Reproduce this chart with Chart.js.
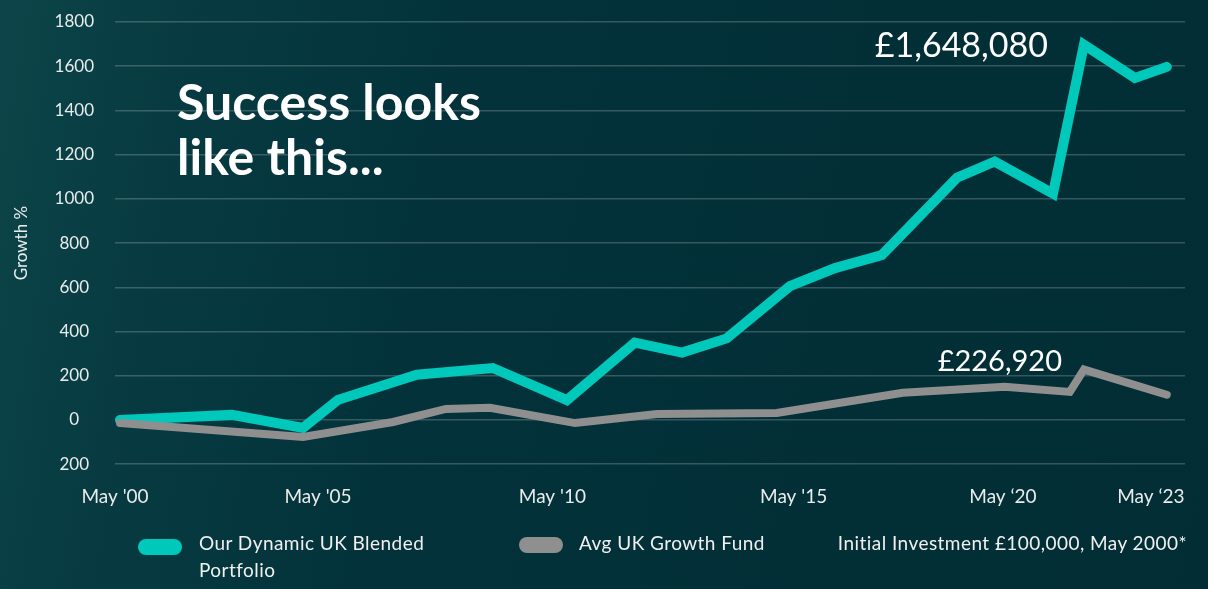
<!DOCTYPE html>
<html>
<head>
<meta charset="utf-8">
<script src="https://cdn.jsdelivr.net/npm/chart.js@4.4.0/dist/chart.umd.min.js"></script>
<style>
  body {
    margin: 0;
    width: 1208px;
    height: 589px;
    overflow: hidden;
    background: linear-gradient(100deg, #0c4549 0%, #073b41 14%, #03323a 36%, #022d34 100%);
    font-family: Lato, sans-serif;
  }
  #wrap { position: relative; width: 1208px; height: 589px; }
  #chart { position: absolute; left: 0; top: 0; }
  .legend-text { position: absolute; font-size: 19px; letter-spacing: 0.45px; line-height: 27px; color: #f0f0f0; }
  .pill { position: absolute; width: 44px; height: 16px; border-radius: 8px; }
</style>
</head>
<body>
<div id="wrap">
  <canvas id="chart" width="1208" height="589"></canvas>
  <div id="legend"></div>
</div>
<script>
// ------------------ Data ------------------
const tealYears = [2000, 2002.46, 2004.02, 2004.79, 2006.52, 2008.19, 2009.82, 2011.31, 2012.35, 2013.33, 2014.72, 2015.71, 2016.74, 2018.39, 2019.22, 2020.5, 2021.18, 2022.3, 2023];
const tealValues = [0, 23, -36, 91, 205, 235, 90, 350, 305, 369, 605, 687, 746, 1096, 1169, 1024, 1697, 1547, 1597];

const greyYears = [2000, 2004.02, 2006.0, 2007.16, 2008.13, 2010.0, 2011.8, 2014.43, 2017.2, 2019.44, 2020.87, 2021.18, 2023];
const greyValues = [-14, -77, -9, 50, 55, -14, 27, 32, 123, 150, 127, 228, 114];

const seriesNames = ["Our Dynamic UK Blended Portfolio", "Avg UK Growth Fund"];
const seriesColors = ["#00c9bc", "#8f8f8f"];
const peakLabels = ["£1,648,080", "£226,920"];

const tickYears = [1999.89, 2004.35, 2009.5, 2014.8, 2019.4, 2022.65];
const tickLabels = ["May '00", "May '05", "May '10", "May '15", "May ‘20", "May ‘23"];

const headline = ["Success looks", "like this..."];
const footNote = "Initial Investment £100,000, May 2000*";

const textColor = "#e9ecec";

function toPoints(xs, ys) {
    return xs.map((x, i) => ({ x: x, y: ys[i] }));
}

// ------------------ Plugin for the texts on the chart ------------------
const annotate = {
    id: "annotate",
    afterDatasetsDraw(chart) {
        const ctx = chart.ctx;
        const area = chart.chartArea;
        ctx.save();
        ctx.fillStyle = "#ffffff";
        ctx.textBaseline = "alphabetic";

        ctx.font = "700 50px Lato";
        ctx.textAlign = "left";
        headline.forEach((line, i) => {
            ctx.fillText(line, area.left + 62, area.top + 98 + i * 55);
        });

        // peak value labels, placed next to each series' highest point
        const tealMeta = chart.getDatasetMeta(0);
        const tealPeak = tealMeta.data[tealValues.indexOf(Math.max(...tealValues))];
        ctx.textAlign = "right";
        ctx.font = "400 34px Lato";
        ctx.fillText(peakLabels[0], tealPeak.x - 36, tealPeak.y + 12);

        const greyMeta = chart.getDatasetMeta(1);
        const greyPeak = greyMeta.data[greyValues.indexOf(Math.max(...greyValues))];
        ctx.font = "400 29px Lato";
        ctx.fillText(peakLabels[1], greyPeak.x - 22, greyPeak.y + 1);
        ctx.restore();
    }
};

// ------------------ The chart ------------------
const ctx = document.getElementById("chart").getContext("2d");
const myChart = new Chart(ctx, {
    type: "line",
    data: {
        datasets: [
            {
                label: seriesNames[0],
                data: toPoints(tealYears, tealValues),
                borderColor: seriesColors[0],
                borderWidth: 10,
                borderCapStyle: "round",
                borderJoinStyle: "miter",
                pointRadius: 0,
                tension: 0,
                order: 1,
            },
            {
                label: seriesNames[1],
                data: toPoints(greyYears, greyValues),
                borderColor: seriesColors[1],
                borderWidth: 8,
                borderCapStyle: "round",
                borderJoinStyle: "miter",
                pointRadius: 0,
                tension: 0,
                order: 0,
            },
        ],
    },
    options: {
        responsive: false,
        animation: false,
        layout: { padding: { top: 22, right: 23, bottom: 60, left: 0 } },
        plugins: {
            legend: { display: false },
            tooltip: { enabled: false },
        },
        scales: {
            x: {
                type: "linear",
                min: 1999.89,
                max: 2023.4,
                afterBuildTicks(scale) {
                    scale.ticks = tickYears.map((v) => ({ value: v }));
                },
                ticks: {
                    autoSkip: false,
                    maxRotation: 0,
                    padding: 21,
                    color: textColor,
                    font: { family: "Lato", size: 19 },
                    callback: (value, index) => tickLabels[index],
                },
                grid: { display: false, drawTicks: false },
                border: { display: false },
            },
            y: {
                min: -200,
                max: 1800,
                afterFit(scale) {
                    scale.width = 115;
                    scale.paddingTop = 0;
                    scale.paddingBottom = 0;
                },
                ticks: {
                    stepSize: 200,
                    padding: 21,
                    crossAlign: "center",
                    color: textColor,
                    font: { family: "Lato", size: 17 },
                    callback: (value) => Math.abs(value),
                },
                grid: { color: "rgba(255,255,255,0.2)", lineWidth: 1.5, drawTicks: false },
                border: { display: false },
                title: {
                    display: true,
                    text: "Growth %",
                    color: textColor,
                    font: { family: "Lato", size: 17 },
                    padding: { top: 11, bottom: 0 },
                },
            },
        },
    },
    plugins: [annotate],
});

// ------------------ HTML legend under the chart ------------------
const legend = document.getElementById("legend");
const legendSpots = [
    { pillX: 138, pillY: 539, textX: 199, width: 250 },
    { pillX: 519, pillY: 537, textX: 579, width: 260 },
];
seriesNames.forEach((name, i) => {
    const spot = legendSpots[i];
    const pill = document.createElement("div");
    pill.className = "pill";
    pill.style.left = spot.pillX + "px";
    pill.style.top = spot.pillY + "px";
    pill.style.background = seriesColors[i];
    legend.appendChild(pill);

    const text = document.createElement("div");
    text.className = "legend-text";
    text.style.left = spot.textX + "px";
    text.style.top = "529px";
    text.style.width = spot.width + "px";
    text.textContent = name;
    legend.appendChild(text);
});
const note = document.createElement("div");
note.className = "legend-text";
note.style.right = "21px";
note.style.top = "529px";
note.textContent = footNote;
legend.appendChild(note);
</script>
</body>
</html>
